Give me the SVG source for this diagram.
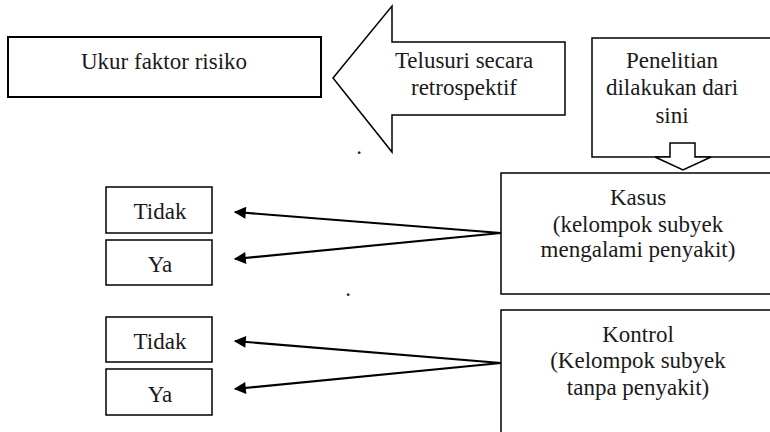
<svg xmlns="http://www.w3.org/2000/svg" width="770" height="432" viewBox="0 0 770 432">
  <style>
    .box { fill: #fff; stroke: #000; stroke-width: 1.5; }
    .thick { stroke-width: 2; }
    .lbl { font-family: "Liberation Serif", "DejaVu Serif", serif; font-size: 23px; fill: #1a1a1a; text-anchor: middle; }
    .conn { stroke: #000; stroke-width: 2.2; fill: none; marker-end: url(#head); }
  </style>
  <defs>
    <marker id="head" viewBox="0 0 10 10" refX="9" refY="5" markerUnits="userSpaceOnUse" markerWidth="15" markerHeight="12" orient="auto">
      <path d="M0,0 L10,5 L0,10 Z" fill="#000"/>
    </marker>
  </defs>

  <g id="ukur">
    <rect class="box thick" x="8" y="37" width="313" height="60"/>
    <text class="lbl" x="164" y="69">Ukur faktor risiko</text>
  </g>

  <g id="telusuri">
    <polygon class="box" points="333,78 392,6 392,42 565,42 565,115 392,115 392,152"/>
    <text class="lbl" x="464" y="68">Telusuri secara</text>
    <text class="lbl" x="464" y="95">retrospektif</text>
  </g>

  <g id="penelitian">
    <rect class="box" x="592" y="38" width="190" height="119"/>
    <text class="lbl" x="672" y="68">Penelitian</text>
    <text class="lbl" x="672" y="95">dilakukan dari</text>
    <text class="lbl" x="672" y="123">sini</text>
  </g>

  <g id="kasus">
    <rect class="box" x="501" y="173" width="290" height="121"/>
    <text class="lbl" x="638" y="205">Kasus</text>
    <text class="lbl" x="638" y="232">(kelompok subyek</text>
    <text class="lbl" x="638" y="257">mengalami penyakit)</text>
  </g>

  <g id="penelitian-arrow">
    <polygon class="box" points="670,143 695,143 695,157 711,157 683,170 655,157 670,157"/>
  </g>

  <g id="kontrol">
    <rect class="box" x="501" y="310" width="290" height="140"/>
    <text class="lbl" x="638" y="342">Kontrol</text>
    <text class="lbl" x="638" y="368">(Kelompok subyek</text>
    <text class="lbl" x="638" y="395">tanpa penyakit)</text>
  </g>

  <g id="kasus-tidak">
    <rect class="box" x="106" y="187" width="106" height="46"/>
    <text class="lbl" x="160" y="219">Tidak</text>
  </g>
  <g id="kasus-ya">
    <rect class="box" x="106" y="240" width="106" height="45"/>
    <text class="lbl" x="160" y="272">Ya</text>
  </g>
  <g id="kontrol-tidak">
    <rect class="box" x="106" y="317" width="106" height="45"/>
    <text class="lbl" x="160" y="349">Tidak</text>
  </g>
  <g id="kontrol-ya">
    <rect class="box" x="106" y="369" width="106" height="46"/>
    <text class="lbl" x="160" y="402">Ya</text>
  </g>

  <g id="connectors">
    <line class="conn" x1="501" y1="233" x2="235" y2="212"/>
    <line class="conn" x1="501" y1="233" x2="235" y2="259"/>
    <line class="conn" x1="501" y1="363" x2="235" y2="341"/>
    <line class="conn" x1="501" y1="363" x2="235" y2="389"/>
  </g>

  <g id="marks">
    <text class="lbl" x="359" y="154">.</text>
    <text class="lbl" x="348" y="296">.</text>
  </g>
</svg>
